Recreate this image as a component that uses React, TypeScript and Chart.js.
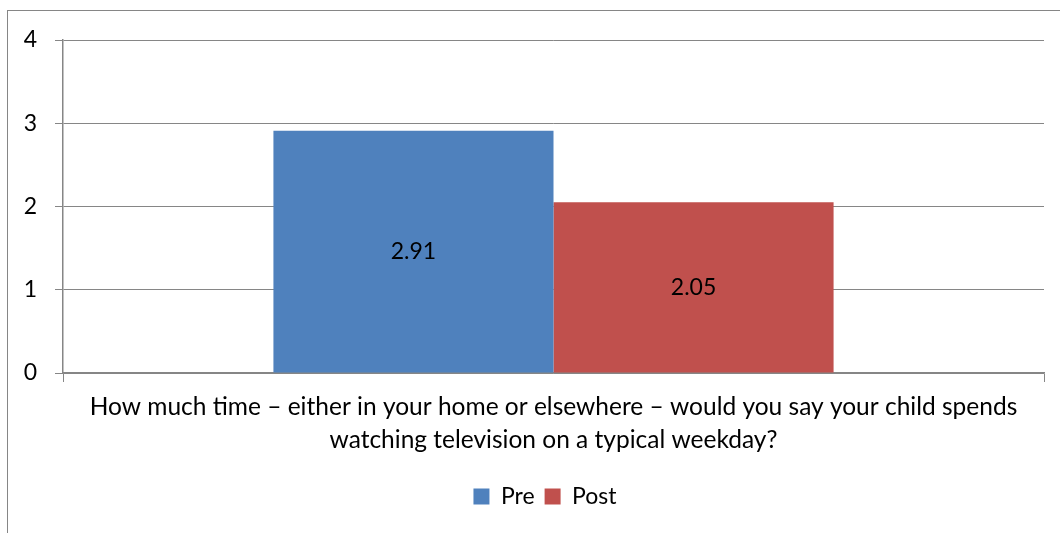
import React, { useEffect, useRef } from "react";
import { Chart, registerables } from "chart.js";

Chart.register(...registerables);

const categories: string[][] = [
  [
    "How much time – either in your home or elsewhere – would you say your child spends",
    "watching television on a typical weekday?",
  ],
];
const seriesNames = ["Pre", "Post"];
const preValues = [2.91];
const postValues = [2.05];
const yTicks = [0, 1, 2, 3, 4];

const FONT = "Lato";
const FONT_SIZE = 23;
const CATEGORY_FONT_SIZE = 24.5;
const TEXT = "#000000";
const GRID = "#868686";

const barValueLabels = {
  id: "barValueLabels",
  afterDatasetsDraw(chart: any) {
    const { ctx } = chart;
    ctx.save();
    ctx.font = `${FONT_SIZE}px ${FONT}`;
    ctx.fillStyle = TEXT;
    ctx.textAlign = "center";
    ctx.textBaseline = "middle";
    chart.data.datasets.forEach((ds: any, di: number) => {
      const meta = chart.getDatasetMeta(di);
      meta.data.forEach((bar: any, i: number) => {
        const { x, y, base } = bar.getProps(["x", "y", "base"], true);
        ctx.fillText(Number(ds.data[i]).toFixed(2), x, (y + base) / 2);
      });
    });
    ctx.restore();
  },
};

// Centre the legend under the whole framed area rather than the canvas
const legendShift = {
  id: "legendShift",
  afterLayout(chart: any) {
    if (chart.legend) chart.legend.left += 46;
  },
};

export default function App() {
  const canvasRef = useRef<HTMLCanvasElement | null>(null);

  useEffect(() => {
    if (!canvasRef.current) return;
    const chart = new Chart(canvasRef.current, {
      type: "bar",
      data: {
        labels: categories,
        datasets: [
          {
            label: seriesNames[0],
            data: preValues,
            backgroundColor: "#4F81BD",
            barPercentage: 1,
            categoryPercentage: 0.571,
          },
          {
            label: seriesNames[1],
            data: postValues,
            backgroundColor: "#C0504D",
            barPercentage: 1,
            categoryPercentage: 0.571,
          },
        ],
      },
      options: {
        animation: false,
        responsive: false,
        maintainAspectRatio: false,
        layout: { padding: { top: 40, right: 16, bottom: 15, left: 0 } },
        font: { family: FONT, size: FONT_SIZE },
        color: TEXT,
        plugins: {
          tooltip: { enabled: false },
          legend: {
            position: "bottom",
            labels: {
              boxWidth: 16,
              boxHeight: 16,
              padding: 10,
              color: TEXT,
              font: { family: FONT, size: FONT_SIZE },
            },
          },
        },
        scales: {
          x: {
            offset: true,
            grid: {
              offset: true,
              drawOnChartArea: false,
              drawTicks: true,
              tickLength: 9,
              color: GRID,
            },
            border: { display: true, color: GRID, width: 1.5 },
            ticks: {
              color: TEXT,
              maxRotation: 0,
              minRotation: 0,
              autoSkip: false,
              padding: 9,
              font: { family: FONT, size: CATEGORY_FONT_SIZE, lineHeight: "33px" },
            },
            afterFit(scale: any) {
              scale.height = 102;
            },
          },
          y: {
            min: 0,
            max: 4,
            afterBuildTicks(scale: any) {
              scale.ticks = yTicks.map((v) => ({ value: v }));
            },
            grid: {
              color: GRID,
              lineWidth: 1,
              tickLength: 8,
            },
            border: { display: true, color: GRID, width: 1.5 },
            ticks: {
              color: TEXT,
              padding: 18,
              font: { family: FONT, size: FONT_SIZE },
            },
            afterFit(scale: any) {
              scale.width = 63;
            },
          },
        },
      },
      plugins: [barValueLabels, legendShift],
    });
    return () => chart.destroy();
  }, []);

  return (
    <div
      style={{
        position: "absolute",
        left: 0,
        top: 0,
        width: 1060,
        height: 533,
        overflow: "hidden",
        background: "#ffffff",
      }}
    >
      <div
        style={{
          position: "absolute",
          left: 7,
          top: 10,
          width: 1100,
          height: 600,
          borderLeft: "1px solid #868686",
          borderTop: "1px solid #868686",
        }}
      />
      <canvas
        ref={canvasRef}
        width={1060}
        height={533}
        style={{ position: "absolute", left: 0, top: 0, display: "block" }}
      />
    </div>
  );
}
